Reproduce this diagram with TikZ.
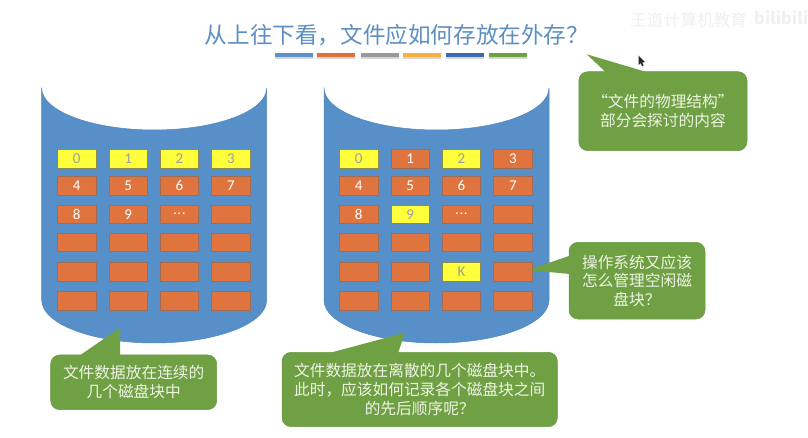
\documentclass[tikz,border=0pt]{standalone}
\usepackage{fontspec}
\setmainfont{Noto Sans CJK SC}
\newfontfamily\numfont{Carlito}
\definecolor{diskblue}{HTML}{5790C8}
\definecolor{diskedge}{HTML}{5085BC}
\definecolor{blockor}{HTML}{E0743E}
\definecolor{blockedge}{HTML}{A06C54}
\definecolor{blockye}{HTML}{FFFF3C}
\definecolor{yeledge}{HTML}{8C8C50}
\definecolor{noteg}{HTML}{70A044}
\definecolor{noteedge}{HTML}{669A40}
\definecolor{titleblue}{HTML}{5C8FC4}
\definecolor{notetext}{HTML}{EEF4E4}
\newcommand{\threedots}{.\kern.5bp.\kern.5bp.}
\tikzset{
  x=1bp,y=-1bp,
  diskbody/.style={fill=diskblue,draw=diskedge,line width=.5bp},
  cellbase/.style={rectangle,inner sep=0pt,minimum width=38.6bp,minimum height=18.8bp,line width=.55bp,font=\numfont\fontsize{15bp}{15bp}\selectfont},
  ob/.style={cellbase,fill=blockor,draw=blockedge,text=white},
  yb/.style={cellbase,fill=blockye,draw=yeledge,text=black!38},
  note/.style={rectangle,rounded corners=9bp,fill=noteg,draw=noteedge,line width=.5bp,text=notetext,inner sep=0pt,align=center,font=\fontsize{15.7bp}{18.7bp}\selectfont},
  tip/.style={fill=noteg,draw=none},
  bar/.style={rectangle,inner sep=0pt,minimum width=38.4bp,minimum height=3.8bp,draw=none},
  barshadow/.style={fill=black!45,opacity=.35,draw=none},
  mark text/.style={text=black!6,font=\fontsize{16.7bp}{17bp}\selectfont},
}
\newcommand{\drawdisk}[2]{%
  \pgfmathsetmacro{\rx}{(#2-#1)/2}
  \path[diskbody] (#1,88) -- (#1,300) arc[start angle=180,end angle=360,x radius=\rx bp,y radius=43bp] -- (#2,88) arc[start angle=0,end angle=-180,x radius=\rx bp,y radius=42bp] -- cycle;}
\newcommand{\drawcells}[3]{%
  \foreach \st/\tx [count=\i from 0] in {#3}{
    \pgfmathtruncatemacro{\cc}{mod(\i,4)}
    \pgfmathtruncatemacro{\rr}{int(\i/4)}
    \pgfmathsetmacro{\xc}{#2+{0,51.5,102.7,154.3}[\cc]}
    \pgfmathsetmacro{\yc}{{158.7,185.7,214.2,242.2,272,300.6}[\rr]}
    \node[\st] (#1-\rr-\cc) at (\xc,\yc) {\tx};
  }}
\begin{document}
\begin{tikzpicture}
\useasboundingbox (0,0) rectangle (808,438);
\fill[white] (0,0) rectangle (808,438);
% watermark
\node[mark text,anchor=west,inner sep=0pt] (wm) at (630,20) {王道计算机教育};
\node[mark text,anchor=west,inner sep=0pt,font=\bfseries\fontsize{16.5bp}{17bp}\selectfont] (wmb) at (754,18) {bilibili};
% title
\node[text=titleblue,font=\fontsize{22.6bp}{24bp}\selectfont,inner sep=0pt] (title) at (397,35.5) {从上往下看，文件应如何存放在外存？};
% bars
\foreach \xc/\colr [count=\n] in {294.2/5B93C8,336/E0703C,379.7/999999,421.9/F5B040,464.8/3C68B0,507.9/6FA040}{
  \definecolor{barcol}{HTML}{\colr}
  \fill[barshadow] (\xc-19,54.5) rectangle (\xc+19,59);
  \node[bar,fill=barcol] (bar\n) at (\xc,55.2) {};
}
% disks
\drawdisk{41.7}{266.7}
\drawdisk{324}{549}
\drawcells{a}{76.7}{yb/0,yb/1,yb/2,yb/3,ob/4,ob/5,ob/6,ob/7,ob/8,ob/9,ob/\threedots,ob/{},ob/{},ob/{},ob/{},ob/{},ob/{},ob/{},ob/{},ob/{},ob/{},ob/{},ob/{},ob/{}}
\drawcells{b}{358.7}{yb/0,ob/1,yb/2,ob/3,ob/4,ob/5,ob/6,ob/7,ob/8,yb/9,ob/\threedots,ob/{},ob/{},ob/{},ob/{},ob/{},ob/{},ob/{},yb/K,ob/{},ob/{},ob/{},ob/{},ob/{}}
% callouts
\node[note,minimum width=168.2bp,minimum height=79bp] (n1) at (662.9,111.2) {“文件的物理结构”\\部分会探讨的内容};
\coordinate (t1) at (586.8,54.3);
\fill[tip] (t1) -- (648,72.5) -- (606,72.5) -- cycle;
\node[note,minimum width=166bp,minimum height=54.7bp] (n2) at (133.7,382.3) {文件数据放在连续的\\几个磁盘块中};
\coordinate (t2) at (120,327.7);
\fill[tip] (t2) -- (120,355.8) -- (79.3,355.8) -- cycle;
\node[note,minimum width=275.3bp,minimum height=74.4bp] (n3) at (419.7,389.5) {文件数据放在离散的几个磁盘块中。\\此时，应该如何记录各个磁盘块之间\\的先后顺序呢？};
\coordinate (t3) at (405,332.7);
\fill[tip] (t3) -- (398,353.1) -- (329,353.1) -- cycle;
\node[note,minimum width=136bp,minimum height=76.7bp] (n4) at (637,280.7) {操作系统又应该\\怎么管理空闲磁\\盘块？};
\coordinate (t4) at (528,270);
\fill[tip] (t4) -- (569.8,255.7) -- (569.8,274) -- cycle;
% pointer
\fill[black!85] (638.5,55.5) -- (638.5,65) -- (640.6,63) -- (642,66.2) -- (643.6,65.4) -- (642.2,62.4) -- (645,62.2) -- cycle;
\end{tikzpicture}
\end{document}
